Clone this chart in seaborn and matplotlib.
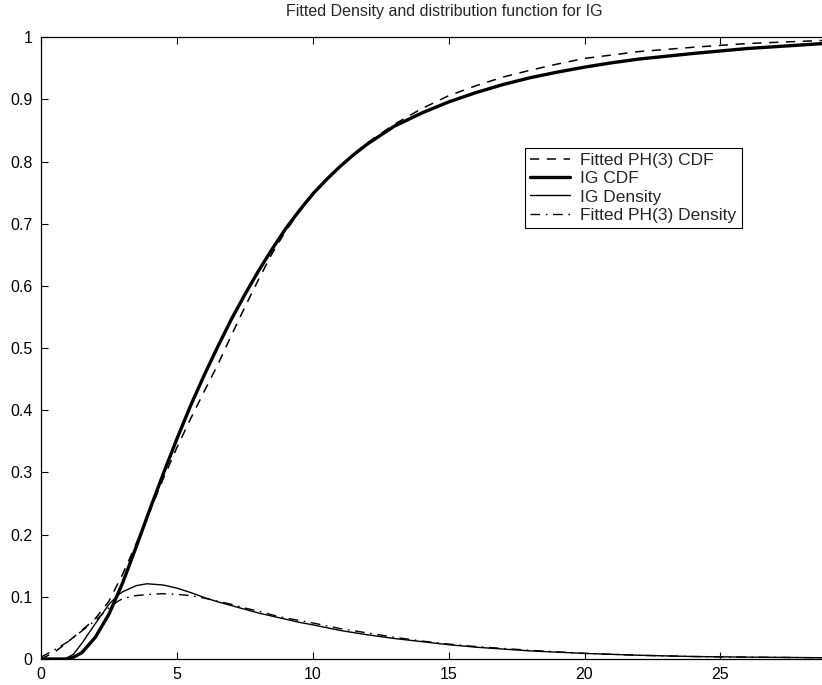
import numpy as np
import pandas as pd
import matplotlib
matplotlib.use("Agg")
import matplotlib.pyplot as plt
import seaborn as sns

# ---- data ----
ig_cdf_x = [0, 0.9, 1.2, 1.5, 2, 2.5, 3, 3.5, 4, 4.5, 5, 5.5, 6, 6.5, 7, 7.5, 8, 8.5, 9, 9.5,
            10, 10.5, 11, 11.5, 12, 13, 14, 15, 16, 17, 18, 19, 20, 21, 22, 24, 26, 28.8]
ig_cdf_y = [0, 0, 0.003, 0.010, 0.035, 0.072, 0.122, 0.180, 0.240, 0.298, 0.354, 0.407, 0.456,
            0.502, 0.546, 0.586, 0.624, 0.659, 0.692, 0.721, 0.748, 0.771, 0.792, 0.811, 0.828,
            0.857, 0.878, 0.896, 0.911, 0.924, 0.935, 0.944, 0.952, 0.959, 0.965, 0.974, 0.982,
            0.990]

ph_cdf_x = [0, 0.5, 1, 1.5, 2, 2.5, 3, 3.5, 4, 4.5, 5, 5.5, 6, 6.5, 7, 7.5, 8, 8.5, 9, 9.5,
            10, 10.5, 11, 11.5, 12, 13, 14, 15, 16, 17, 18, 19, 20, 22, 24, 26, 28.8]
ph_cdf_y = [0, 0.011, 0.028, 0.046, 0.065, 0.093, 0.136, 0.185, 0.237, 0.290, 0.340, 0.386,
            0.430, 0.473, 0.520, 0.566, 0.610, 0.652, 0.688, 0.719, 0.746, 0.770, 0.792, 0.812,
            0.830, 0.860, 0.885, 0.906, 0.922, 0.936, 0.947, 0.957, 0.966, 0.977, 0.984,
            0.990, 0.995]

ig_pdf_x = [0, 0.9, 1.2, 1.5, 2, 2.5, 2.84, 3, 3.5, 3.9, 4.5, 5, 5.5, 6, 6.5, 7, 7.5, 8, 8.5, 9,
            9.5, 10, 11, 12, 13, 14, 15, 16, 17, 18, 20, 22, 24, 26, 28.8]
ig_pdf_y = [0, 0, 0.008, 0.025, 0.057, 0.088, 0.103, 0.108, 0.118, 0.121, 0.119, 0.114, 0.107,
            0.099, 0.092, 0.086, 0.080, 0.074, 0.069, 0.064, 0.059, 0.055, 0.046, 0.039, 0.033,
            0.028, 0.023, 0.019, 0.016, 0.013, 0.009, 0.006, 0.004, 0.003, 0.002]

ph_pdf_x = [0, 0.5, 1, 1.5, 2, 2.5, 2.8, 3, 3.5, 4, 4.5, 5, 5.5, 6, 6.5, 7, 7.5, 8, 8.5, 9,
            10, 11, 12, 13, 14, 15, 16, 17, 18, 20, 22, 24, 26, 28.8]
ph_pdf_y = [0.003, 0.015, 0.028, 0.045, 0.062, 0.082, 0.092, 0.097, 0.102, 0.104, 0.105, 0.104,
            0.102, 0.098, 0.093, 0.088, 0.082, 0.077, 0.071, 0.066, 0.058, 0.049, 0.042, 0.035,
            0.029, 0.024, 0.020, 0.017, 0.014, 0.009, 0.006, 0.004, 0.003, 0.002]

labels = ["Fitted PH(3) CDF", "IG CDF", "IG Density", "Fitted PH(3) Density"]
x_ticks = [0, 5, 10, 15, 20, 25]
y_ticks = [0, 0.1, 0.2, 0.3, 0.4, 0.5, 0.6, 0.7, 0.8, 0.9, 1]
y_tick_labels = ["0", "0.1", "0.2", "0.3", "0.4", "0.5", "0.6", "0.7", "0.8", "0.9", "1"]

sns.set_style("white")
plt.rcParams["font.family"] = ["Liberation Sans", "DejaVu Sans"]

fig = plt.figure(figsize=(8.22, 6.85), dpi=100)
ax = fig.add_axes([41 / 822, 1 - 659 / 685, 1 - 41 / 822 + 0.002, (659 - 37.3) / 685])

series = [
    (ph_cdf_x, ph_cdf_y, labels[0], (0, (6, 5)), 1.1),
    (ig_cdf_x, ig_cdf_y, labels[1], "-", 2.4),
    (ig_pdf_x, ig_pdf_y, labels[2], "-", 1.0),
    (ph_pdf_x, ph_pdf_y, labels[3], (0, (7, 4, 1.2, 4)), 1.0),
]
for xs, ys, lab, ls, lw in series:
    df = pd.DataFrame({"x": xs, "y": ys})
    sns.lineplot(data=df, x="x", y="y", ax=ax, color="black", linestyle=ls,
                 linewidth=lw, label=lab, sort=True)

ax.set_xlim(0, 28.8)
ax.set_ylim(0, 1)
ax.set_xticks(x_ticks)
ax.set_xticklabels([str(t) for t in x_ticks])
ax.set_yticks(y_ticks)
ax.set_yticklabels(y_tick_labels)
ax.set_xlabel("")
ax.set_ylabel("")
ax.tick_params(direction="in", length=5, width=0.8, labelsize=11.5, colors="black",
               top=True, bottom=True, left=True, right=False, pad=6)
for s in ["top", "bottom", "left"]:
    ax.spines[s].set_color("black")
    ax.spines[s].set_linewidth(0.9)
ax.spines["right"].set_visible(False)

ax.set_title("Fitted Density and distribution function for IG", fontsize=11.5, pad=15,
             x=0.515)

leg = ax.legend(loc="upper left", bbox_to_anchor=(0.618, 0.822), fontsize=12.5,
                frameon=True, fancybox=False, edgecolor="black", framealpha=1,
                handlelength=2.3, handletextpad=0.6, borderpad=0.3, labelspacing=0.17,
                borderaxespad=0)
leg.get_frame().set_linewidth(0.8)

fig.savefig("out.png", dpi=100)
